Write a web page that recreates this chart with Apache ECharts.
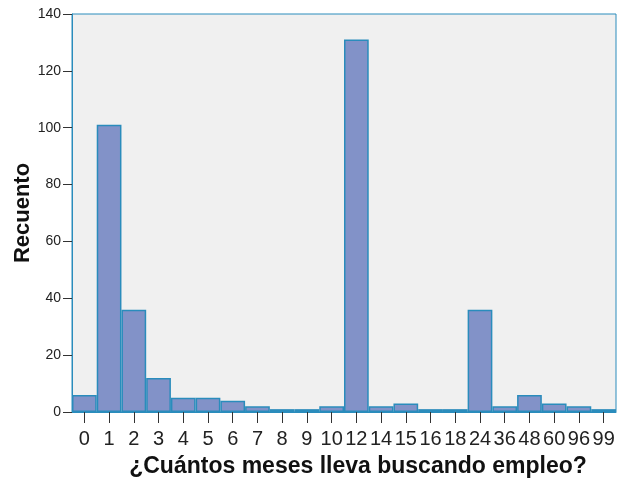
<!DOCTYPE html>
<html>
<head>
<meta charset="utf-8">
<script src="https://cdn.jsdelivr.net/npm/echarts@6/dist/echarts.min.js"></script>
<style>
  html, body { margin: 0; padding: 0; background: #fff; }
  #main { width: 617px; height: 480px; }
</style>
</head>
<body>
<div id="main"></div>
<script>
// meses buscando empleo -> recuento
var meses = ['0', '1', '2', '3', '4', '5', '6', '7', '8', '9', '10', '12', '14', '15', '16', '18', '24', '36', '48', '60', '96', '99'];
var recuento = [6, 101, 36, 12, 5, 5, 4, 2, 1, 1, 2, 131, 2, 3, 1, 1, 36, 2, 6, 3, 2, 1];
var yTicks = [0, 20, 40, 60, 80, 100, 120, 140];

var chart = echarts.init(document.getElementById('main'), null, { renderer: 'canvas' });

var lineColor = '#2a8cbc';
chart.setOption({
  animation: false,
  grid: {
    left: 72, right: 1, top: 14, bottom: 68,
    outerBoundsMode: 'none',
    containLabel: false,
    show: true,
    backgroundColor: '#f0f0f0',
    borderColor: lineColor,
    borderWidth: 1
  },
  xAxis: {
    type: 'category',
    data: meses,
    name: '¿Cuántos meses lleva buscando empleo?',
    nameLocation: 'middle',
    nameGap: 43,
    nameMoveOverlap: false,
    nameTextStyle: { fontFamily: 'Liberation Sans', fontWeight: 'bold', fontSize: 23, color: '#111', padding: [0, 0, 0, 28] },
    axisLine: { lineStyle: { color: lineColor } },
    axisTick: { show: true, alignWithLabel: true, length: 11, lineStyle: { color: '#333' } },
    axisLabel: { interval: 0, fontFamily: 'Liberation Sans', fontSize: 20, color: '#222', margin: 17 },
    splitLine: { show: false }
  },
  yAxis: {
    type: 'value',
    min: yTicks[0],
    max: yTicks[yTicks.length - 1],
    interval: 20,
    name: 'Recuento',
    nameLocation: 'middle',
    nameGap: 38,
    nameMoveOverlap: false,
    nameTextStyle: { fontFamily: 'Liberation Sans', fontWeight: 'bold', fontSize: 22, color: '#111' },
    axisLine: { show: true, lineStyle: { color: lineColor } },
    axisTick: { show: true, length: 9, lineStyle: { color: '#333' } },
    axisLabel: { fontFamily: 'Liberation Sans', fontSize: 14, color: '#222', margin: 11 },
    splitLine: { show: false }
  },
  series: [{
    type: 'bar',
    data: recuento,
    barCategoryGap: '0%',
    itemStyle: { color: '#8292c8', borderColor: lineColor, borderWidth: 1.5 }
  }]
});
</script>
</body>
</html>
